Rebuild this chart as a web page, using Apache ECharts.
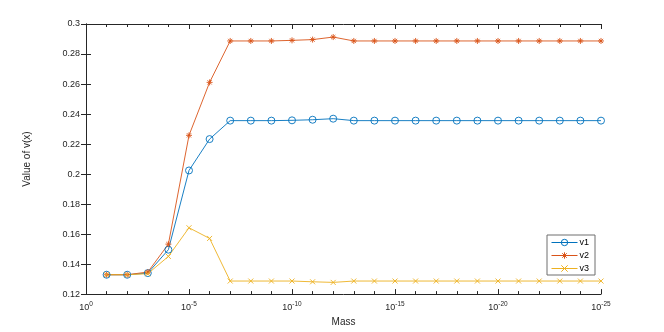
<!DOCTYPE html>
<html>
<head>
<meta charset="utf-8">
<script src="https://cdn.jsdelivr.net/npm/echarts@6/dist/echarts.min.js"></script>
<style>
  html, body { margin: 0; padding: 0; background: #fff; }
  #chart { width: 664px; height: 332px; }
</style>
</head>
<body>
<div id="chart"></div>
<script>
// mass as power of ten: 10^-1 ... 10^-25
const massExp = [-1, -2, -3, -4, -5, -6, -7, -8, -9, -10, -11, -12, -13,
  -14, -15, -16, -17, -18, -19, -20, -21, -22, -23, -24, -25]

const v1 = [0.1329, 0.1329, 0.1340, 0.1496, 0.2024, 0.2233, 0.2356, 0.2356, 0.2356, 0.2358, 0.2362, 0.2369, 0.2356,
  0.2356, 0.2356, 0.2356, 0.2356, 0.2356, 0.2356, 0.2356, 0.2356, 0.2356, 0.2356, 0.2356, 0.2356]
const v2 = [0.1329, 0.1329, 0.1347, 0.1533, 0.2258, 0.2611, 0.2887, 0.2887, 0.2887, 0.2891, 0.2896, 0.2913, 0.2887,
  0.2887, 0.2887, 0.2887, 0.2887, 0.2887, 0.2887, 0.2887, 0.2887, 0.2887, 0.2887, 0.2887, 0.2887]
const v3 = [0.1329, 0.1329, 0.1336, 0.1451, 0.1642, 0.1571, 0.1287, 0.1287, 0.1287, 0.1287, 0.1282, 0.1278, 0.1287,
  0.1287, 0.1287, 0.1287, 0.1287, 0.1287, 0.1287, 0.1287, 0.1287, 0.1287, 0.1287, 0.1287, 0.1287]

const seriesNames = ['v1', 'v2', 'v3']
const colors = ['#0072BD', '#D95319', '#EDB120']

const axisColor = '#262626'
const font = 'Liberation Sans'

const starPath = 'path://M5,0L5,10M0,5L10,5M1.5,1.5L8.5,8.5M1.5,8.5L8.5,1.5'
const crossPath = 'path://M0,0L10,10M0,10L10,0'

function pairs(vals) {
  return massExp.map((e, i) => [e, vals[i]])
}

function supLabel(v) {
  return '10{sup|' + Math.round(v) + '}'
}

const chart = echarts.init(document.getElementById('chart'))

const xCommon = {
  type: 'value',
  min: -25,
  max: 0,
  inverse: true,
  interval: 5,
  axisLine: { lineStyle: { color: axisColor, width: 1 } },
  axisTick: { inside: true, length: 5, lineStyle: { color: axisColor } },
  minorTick: { show: true, splitNumber: 5, length: 3, lineStyle: { color: axisColor } },
  splitLine: { show: false }
}

const yCommon = {
  type: 'value',
  min: 0.12,
  max: 0.3,
  interval: 0.02,
  axisLine: { show: true, lineStyle: { color: axisColor, width: 1 } },
  axisTick: { show: true, inside: true, length: 5, lineStyle: { color: axisColor } },
  splitLine: { show: false }
}

chart.setOption({
  animation: false,
  backgroundColor: '#fff',
  textStyle: { fontFamily: font },
  grid: { left: 86, right: 63, top: 24, bottom: 37 },
  legend: {
    data: seriesNames,
    orient: 'vertical',
    left: 547,
    top: 235,
    itemWidth: 26,
    itemHeight: 8,
    itemGap: 4,
    padding: [3, 6, 2, 4],
    backgroundColor: '#fff',
    borderColor: '#6e6e6e',
    borderWidth: 1,
    borderRadius: 0,
    lineStyle: { width: 1 },
    itemStyle: { borderWidth: 1 },
    textStyle: { fontSize: 9, color: '#000', fontFamily: font, padding: [0, 0, 0, -3] }
  },
  xAxis: [
    Object.assign({}, xCommon, {
      position: 'bottom',
      name: 'Mass',
      nameLocation: 'middle',
      nameGap: 20,
      nameTextStyle: { fontSize: 10, color: axisColor, fontFamily: font },
      axisLabel: {
        color: axisColor,
        fontSize: 9,
        margin: 7,
        formatter: supLabel,
        rich: { sup: { fontSize: 6.5, verticalAlign: 'top', padding: [0, 0, 6, 0], color: axisColor } }
      }
    }),
    Object.assign({}, xCommon, { position: 'top', axisLabel: { show: false } })
  ],
  yAxis: [
    Object.assign({}, yCommon, {
      position: 'left',
      name: 'Value of v(x)',
      nameLocation: 'middle',
      nameRotate: 90,
      nameGap: 54,
      nameTextStyle: { fontSize: 10, color: axisColor, fontFamily: font },
      axisLabel: { color: axisColor, fontSize: 9, margin: 6 }
    }),
    Object.assign({}, yCommon, { position: 'right', axisLabel: { show: false } })
  ],
  series: [
    {
      name: seriesNames[0],
      type: 'line',
      data: pairs(v1),
      symbol: 'circle',
      symbolSize: 7,
      showAllSymbol: true,
      lineStyle: { color: colors[0], width: 0.9 },
      itemStyle: { color: 'rgba(0,0,0,0)', borderColor: colors[0], borderWidth: 0.9 }
    },
    {
      name: seriesNames[1],
      type: 'line',
      data: pairs(v2),
      symbol: starPath,
      symbolSize: 6,
      showAllSymbol: true,
      lineStyle: { color: colors[1], width: 0.9 },
      itemStyle: { color: colors[1], borderColor: colors[1], borderWidth: 0.9 }
    },
    {
      name: seriesNames[2],
      type: 'line',
      data: pairs(v3),
      symbol: crossPath,
      symbolSize: 5,
      showAllSymbol: true,
      lineStyle: { color: colors[2], width: 0.9 },
      itemStyle: { color: colors[2], borderColor: colors[2], borderWidth: 0.9 }
    }
  ]
})
</script>
</body>
</html>
